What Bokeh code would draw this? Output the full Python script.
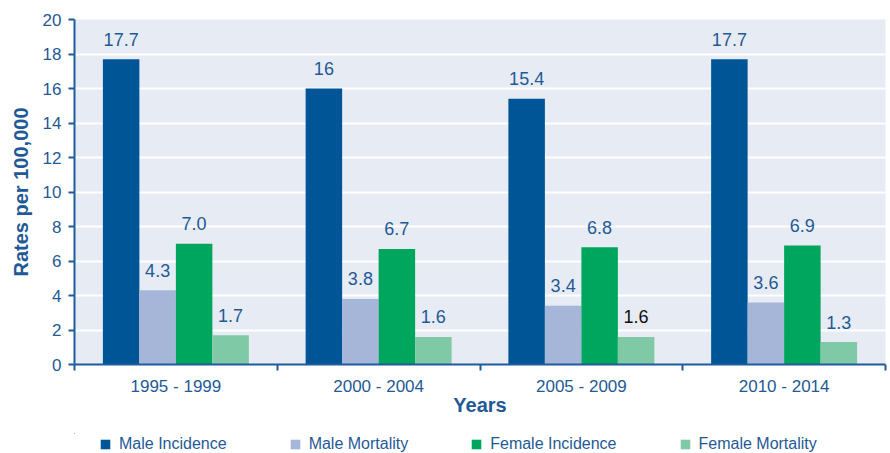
from bokeh.plotting import figure
from bokeh.layouts import column
from bokeh.models import (ColumnDataSource, Range1d, FixedTicker, Legend, LegendItem)
from bokeh.transform import dodge
from bokeh.core.properties import value
from bokeh.embed import file_html
from bokeh.resources import INLINE

# ---- data ----
years = ["1995 - 1999", "2000 - 2004", "2005 - 2009", "2010 - 2014"]
male_incidence = [17.7, 16.0, 15.4, 17.7]
male_mortality = [4.3, 3.8, 3.4, 3.6]
female_incidence = [7.0, 6.7, 6.8, 6.9]
female_mortality = [1.7, 1.6, 1.6, 1.3]
series_names = ["Male Incidence", "Male Mortality", "Female Incidence", "Female Mortality"]
male_incidence_labels = ["17.7", "16", "15.4", "17.7"]
male_mortality_labels = ["4.3", "3.8", "3.4", "3.6"]
female_incidence_labels = ["7.0", "6.7", "6.8", "6.9"]
female_mortality_labels = ["1.7", "1.6", "1.6", "1.3"]
y_ticks = [0, 2, 4, 6, 8, 10, 12, 14, 16, 18, 20]

BLUE_TXT = "#1F5A96"
AXIS_COL = "#1E5C9E"
colors = ["#005596", "#A5B6D8", "#00A65D", "#80C9A6"]
label_colors = [
    [BLUE_TXT] * 4,
    [BLUE_TXT] * 4,
    [BLUE_TXT] * 4,
    [BLUE_TXT, BLUE_TXT, "#111111", BLUE_TXT],
]
FONT = "Liberation Sans"

xs = list(range(len(years)))
values = [male_incidence, male_mortality, female_incidence, female_mortality]
labels = [male_incidence_labels, male_mortality_labels, female_incidence_labels, female_mortality_labels]
offsets = [-0.27, -0.09, 0.09, 0.27]
bar_w = 0.18

W = 888
H_MAIN = 433
H_LEG = 20

p = figure(width=W, height=H_MAIN, output_backend="svg", toolbar_location=None,
           x_range=Range1d(-0.5, len(years) - 0.5), y_range=Range1d(0, 20),
           min_border_left=74, min_border_right=3, min_border_top=19, min_border_bottom=69)
p.background_fill_color = "#E7EBF4"
p.border_fill_color = "white"
p.outline_line_color = None

# separate strip that carries the legend below the chart
p2 = figure(width=W, height=H_LEG, output_backend="svg", toolbar_location=None,
            x_range=Range1d(10, 11), y_range=Range1d(-10, -9),
            x_axis_location=None, y_axis_location=None, min_border=0)
p2.outline_line_color = None
p2.grid.visible = False
p2.background_fill_color = None
p2.border_fill_color = None

items = []
for k in range(4):
    src = ColumnDataSource(dict(x=xs, top=values[k], text=labels[k], tc=label_colors[k]))
    p.vbar(x=dodge("x", offsets[k]), top="top", width=bar_w, source=src,
           fill_color=colors[k], line_color=None)
    p.text(x=dodge("x", offsets[k]), y="top", text="text", source=src,
           text_color="tc", text_align="center", text_baseline="alphabetic",
           y_offset=-20, text_font=value(FONT), text_font_size="18px")
    r2 = p2.vbar(x="x", top="top", width=bar_w, source=src,
                 fill_color=colors[k], line_color=None)
    items.append(LegendItem(label=series_names[k], renderers=[r2]))

# grid
p.xgrid.grid_line_color = None
p.ygrid.grid_line_color = "white"
p.ygrid.grid_line_width = 2
p.ygrid.ticker = FixedTicker(ticks=y_ticks)

# y axis
ya = p.yaxis[0]
ya.ticker = FixedTicker(ticks=y_ticks)
ya.axis_line_color = AXIS_COL
ya.axis_line_width = 2
ya.major_tick_line_color = AXIS_COL
ya.major_tick_line_width = 2
ya.major_tick_out = 6
ya.major_tick_in = 0
ya.minor_tick_line_color = None
ya.major_label_standoff = 7
ya.major_label_text_font = FONT
ya.major_label_text_font_size = "17px"
ya.major_label_text_color = BLUE_TXT
ya.axis_label = "Rates per 100,000"
ya.axis_label_text_font = FONT
ya.axis_label_text_font_size = "20px"
ya.axis_label_text_font_style = "bold"
ya.axis_label_text_color = BLUE_TXT
ya.axis_label_standoff = 8

# x axis
xa = p.xaxis[0]
xa.ticker = FixedTicker(ticks=xs, minor_ticks=[i - 0.5 for i in range(len(years) + 1)])
xa.major_label_overrides = {i: years[i] for i in xs}
xa.axis_line_color = AXIS_COL
xa.axis_line_width = 2
xa.major_tick_line_color = None
xa.major_tick_out = 0
xa.major_tick_in = 0
xa.minor_tick_line_color = AXIS_COL
xa.minor_tick_line_width = 2
xa.minor_tick_out = 6
xa.minor_tick_in = 0
xa.major_label_standoff = 6
xa.major_label_text_font = FONT
xa.major_label_text_font_size = "17px"
xa.major_label_text_color = BLUE_TXT
xa.axis_label = "Years"
xa.axis_label_text_font = FONT
xa.axis_label_text_font_size = "20px"
xa.axis_label_text_font_style = "bold"
xa.axis_label_text_color = BLUE_TXT
xa.axis_label_standoff = -5

legend = Legend(items=items, orientation="horizontal", location=(25, 0),
                glyph_width=12, glyph_height=12, label_standoff=8, spacing=62,
                padding=0, margin=0, border_line_color=None, background_fill_alpha=0,
                label_text_font=FONT, label_text_font_size="16px",
                label_text_color=BLUE_TXT)
p2.add_layout(legend, "center")

layout = column(p, p2, spacing=0)
open("out.html", "w").write(file_html(layout, INLINE))
